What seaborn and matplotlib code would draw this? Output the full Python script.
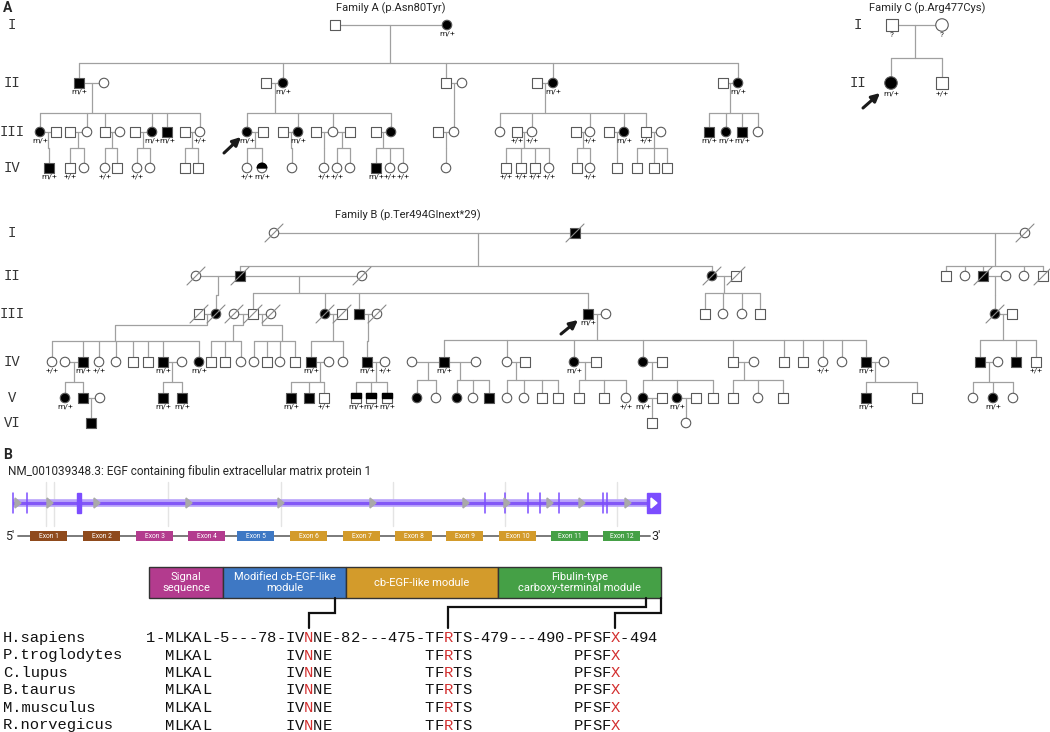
import matplotlib
matplotlib.use("Agg")
import matplotlib.pyplot as plt
import numpy as np
import pandas as pd
import seaborn as sns
from matplotlib.patches import Rectangle, Wedge, Polygon

# ---------------- pedigree data ----------------
# person: (generation, x, sex, status, genotype, deceased)   status 0 open, 1 filled, 2 half
ROMAN = ["I", "II", "III", "IV", "V", "VI"]

rows_a = {1: 25, 2: 83, 3: 132, 4: 168}
people_a = [
    (1, 335, "M", 0, "", 0), (1, 447, "F", 1, "m/+", 0),
    (2, 79, "M", 1, "m/+", 0), (2, 104, "F", 0, "", 0), (2, 266, "M", 0, "", 0), (2, 283, "F", 1, "m/+", 0),
    (2, 446, "M", 0, "", 0), (2, 462, "F", 0, "", 0), (2, 537, "M", 0, "", 0), (2, 553, "F", 1, "m/+", 0),
    (2, 723, "M", 0, "", 0), (2, 738, "F", 1, "m/+", 0),
    (3, 40, "F", 1, "m/+", 0), (3, 56, "M", 0, "", 0), (3, 70, "M", 0, "", 0), (3, 87, "F", 0, "", 0),
    (3, 105, "M", 0, "", 0), (3, 120, "F", 0, "", 0), (3, 135, "M", 0, "", 0), (3, 152, "F", 1, "m/+", 0),
    (3, 167, "M", 1, "m/+", 0), (3, 185, "M", 0, "", 0), (3, 200, "F", 0, "+/+", 0),
    (3, 247, "F", 1, "m/+", 0), (3, 263, "M", 0, "", 0), (3, 283, "M", 0, "", 0), (3, 298, "F", 1, "m/+", 0),
    (3, 316, "M", 0, "", 0), (3, 333, "F", 0, "", 0), (3, 350, "M", 0, "", 0), (3, 376, "M", 0, "", 0),
    (3, 391, "F", 1, "", 0), (3, 438, "M", 0, "", 0), (3, 454, "F", 0, "", 0),
    (3, 500, "F", 0, "", 0), (3, 517, "M", 0, "+/+", 0), (3, 532, "F", 0, "+/+", 0), (3, 576, "M", 0, "", 0),
    (3, 590, "F", 0, "+/+", 0), (3, 609, "M", 0, "", 0), (3, 624, "F", 1, "m/+", 0), (3, 646, "M", 0, "+/+", 0),
    (3, 661, "F", 0, "", 0), (3, 709, "M", 1, "m/+", 0), (3, 726, "F", 1, "m/+", 0), (3, 742, "M", 1, "m/+", 0),
    (3, 758, "F", 0, "", 0),
    (4, 49, "M", 1, "m/+", 0), (4, 70, "M", 0, "+/+", 0), (4, 84, "F", 0, "", 0), (4, 105, "F", 0, "+/+", 0),
    (4, 117, "M", 0, "", 0), (4, 137, "F", 0, "+/+", 0), (4, 150, "F", 0, "", 0), (4, 185, "M", 0, "", 0),
    (4, 198, "M", 0, "", 0), (4, 247, "F", 0, "+/+", 0), (4, 262, "F", 2, "m/+", 0), (4, 292, "F", 0, "", 0),
    (4, 324, "F", 0, "+/+", 0), (4, 337, "F", 0, "+/+", 0), (4, 350, "F", 0, "", 0), (4, 376, "M", 1, "m/+", 0),
    (4, 390, "F", 0, "+/+", 0), (4, 403, "F", 0, "+/+", 0), (4, 446, "F", 0, "", 0),
    (4, 506, "M", 0, "+/+", 0), (4, 521, "M", 0, "+/+", 0), (4, 535, "M", 0, "+/+", 0), (4, 549, "F", 0, "+/+", 0),
    (4, 577, "M", 0, "", 0), (4, 590, "F", 0, "+/+", 0), (4, 617, "M", 0, "", 0), (4, 637, "M", 0, "", 0),
    (4, 654, "M", 0, "", 0), (4, 667, "M", 0, "", 0),
]
couples_a = [
    (1, 335, 447), (2, 79, 104), (2, 266, 283), (2, 446, 462), (2, 537, 553), (2, 723, 738),
    (3, 40, 56), (3, 70, 87), (3, 105, 120), (3, 135, 152), (3, 185, 200), (3, 247, 263), (3, 283, 298),
    (3, 316, 350), (3, 376, 391), (3, 438, 454), (3, 517, 532), (3, 576, 590), (3, 609, 624), (3, 646, 661),
]
# sibship: (parent generation, drop x, bar y, children x)
sibs_a = [
    (1, 390, 63, [79, 283, 446, 553, 738]),
    (2, 92, 113, [40, 87, 105, 152, 167, 200]), (2, 275, 113, [247, 298, 333, 391]),
    (2, 454, 113, [454]), (2, 545, 113, [500, 532, 590, 624, 646]), (2, 730, 113, [709, 726, 742, 758]),
    (3, 48, 148, [49]), (3, 78, 148, [70, 84]), (3, 112, 148, [105, 117]), (3, 143, 148, [137, 150]),
    (3, 192, 148, [185, 198]), (3, 255, 148, [247, 262]), (3, 291, 148, [292]), (3, 324, 148, [324]),
    (3, 342, 148, [337, 350]), (3, 383, 148, [376, 390, 403]), (3, 446, 148, [446]),
    (3, 524, 148, [506, 521, 535, 549]), (3, 583, 148, [577, 590]), (3, 617, 148, [617]),
    (3, 654, 148, [637, 654, 667]),
]

rows_c = {1: 25, 2: 83}
people_c = [(1, 892, "M", 0, "?", 0), (1, 942, "F", 0, "?", 0), (2, 891, "F", 1, "m/+", 0), (2, 942, "M", 0, "+/+", 0)]
couples_c = [(1, 892, 942)]
sibs_c = [(1, 915, 58, [891, 942])]

rows_b = {1: 233, 2: 276, 3: 314, 4: 362, 5: 398, 6: 423}
people_b = [
    (1, 274, "F", 0, "", 1), (1, 575, "M", 1, "", 1), (1, 1025, "F", 0, "", 1),
    (2, 196, "F", 0, "", 1), (2, 240, "M", 1, "", 1), (2, 362, "F", 0, "", 1), (2, 712, "F", 1, "", 1),
    (2, 736, "M", 0, "", 1), (2, 946, "M", 0, "", 0), (2, 965, "F", 0, "", 0), (2, 983, "M", 1, "", 1),
    (2, 1006, "F", 0, "", 0), (2, 1024, "F", 0, "", 0), (2, 1043, "M", 0, "", 1),
    (3, 199, "M", 0, "", 1), (3, 216, "F", 1, "", 1), (3, 234, "F", 0, "", 1), (3, 253, "M", 0, "", 1),
    (3, 271, "F", 0, "", 1), (3, 325, "F", 1, "", 1), (3, 342, "M", 0, "", 1), (3, 359, "M", 1, "", 0),
    (3, 377, "F", 0, "", 1), (3, 588, "M", 1, "m/+", 0), (3, 606, "F", 0, "", 0), (3, 705, "M", 0, "", 0),
    (3, 723, "F", 0, "", 0), (3, 742, "F", 0, "", 0), (3, 760, "M", 0, "", 0), (3, 995, "F", 1, "", 1),
    (3, 1012, "M", 0, "", 0),
    (4, 52, "F", 0, "+/+", 0), (4, 65, "F", 0, "", 0), (4, 83, "M", 1, "m/+", 0), (4, 99, "F", 0, "+/+", 0),
    (4, 116, "F", 0, "", 0), (4, 133, "M", 0, "", 0), (4, 148, "M", 0, "", 0), (4, 163, "M", 1, "m/+", 0),
    (4, 182, "F", 0, "", 0), (4, 199, "F", 1, "m/+", 0), (4, 211, "M", 0, "", 0), (4, 225, "M", 0, "", 0),
    (4, 241, "F", 0, "", 0), (4, 254, "F", 0, "", 0), (4, 267, "M", 0, "", 0), (4, 280, "F", 0, "", 0),
    (4, 295, "M", 0, "", 0), (4, 311, "M", 1, "m/+", 0), (4, 329, "F", 0, "", 0), (4, 343, "F", 0, "", 0),
    (4, 367, "M", 1, "m/+", 0), (4, 385, "F", 0, "+/+", 0), (4, 412, "F", 0, "", 0), (4, 444, "M", 1, "m/+", 0),
    (4, 476, "F", 0, "", 0), (4, 507, "F", 0, "", 0), (4, 525, "M", 0, "", 0), (4, 574, "F", 1, "m/+", 0),
    (4, 596, "M", 0, "", 0), (4, 643, "F", 1, "", 0), (4, 662, "M", 0, "", 0), (4, 733, "M", 0, "", 0),
    (4, 754, "F", 0, "", 0), (4, 784, "M", 0, "", 0), (4, 803, "M", 0, "", 0), (4, 823, "F", 0, "+/+", 0),
    (4, 842, "F", 0, "", 0), (4, 866, "M", 1, "m/+", 0), (4, 884, "F", 0, "", 0), (4, 980, "M", 1, "", 0),
    (4, 998, "F", 0, "", 0), (4, 1016, "M", 1, "", 0), (4, 1036, "M", 0, "+/+", 0),
    (5, 65, "F", 1, "m/+", 0), (5, 83, "M", 1, "", 0), (5, 100, "F", 0, "", 0), (5, 163, "M", 1, "m/+", 0),
    (5, 182, "M", 1, "m/+", 0), (5, 291, "M", 1, "m/+", 0), (5, 309, "M", 1, "", 0), (5, 324, "M", 0, "+/+", 0),
    (5, 356, "M", 2, "m/+", 0), (5, 371, "M", 2, "m/+", 0), (5, 387, "M", 2, "m/+", 0),
    (5, 417, "F", 1, "", 0), (5, 436, "F", 0, "", 0), (5, 457, "F", 1, "", 0), (5, 473, "F", 0, "", 0),
    (5, 489, "M", 1, "", 0), (5, 507, "F", 0, "", 0), (5, 524, "F", 0, "", 0), (5, 542, "M", 0, "", 0),
    (5, 558, "M", 0, "", 0), (5, 579, "M", 0, "", 0), (5, 604, "M", 0, "", 0), (5, 626, "F", 0, "+/+", 0),
    (5, 643, "F", 1, "m/+", 0), (5, 662, "M", 0, "", 0), (5, 677, "F", 1, "m/+", 0), (5, 696, "M", 0, "", 0),
    (5, 713, "M", 0, "", 0), (5, 733, "M", 0, "", 0), (5, 758, "F", 0, "", 0), (5, 783, "M", 0, "", 0),
    (5, 866, "M", 1, "m/+", 0), (5, 917, "M", 0, "", 0), (5, 973, "F", 0, "", 0), (5, 993, "F", 1, "m/+", 0),
    (5, 1013, "F", 0, "", 0),
    (6, 91, "M", 1, "", 0), (6, 652, "M", 0, "", 0), (6, 686, "F", 0, "", 0),
]
couples_b = [
    (1, 274, 575), (1, 575, 1025), (2, 196, 240), (2, 240, 362), (2, 712, 736), (2, 983, 1006),
    (3, 199, 216), (3, 234, 253), (3, 253, 271), (3, 325, 342), (3, 359, 377), (3, 588, 606), (3, 995, 1012),
    (4, 65, 83), (4, 163, 182), (4, 311, 329), (4, 367, 385), (4, 412, 444), (4, 444, 476), (4, 507, 525),
    (4, 574, 596), (4, 643, 662), (4, 733, 754), (4, 866, 884), (4, 980, 998),
    (5, 83, 100), (5, 643, 662), (5, 677, 696),
]
# optional 5th item: (jog y, jog x) for bent descent lines
sibs_b = [
    (1, 478, 266, [240, 712]), (1, 995, 266, [946, 965, 983, 1024, 1043]),
    (2, 218, 295, [216]), (2, 299, 293, [253, 325, 359, 588]), (2, 724, 293, [705, 723, 742, 760]),
    (2, 995, 295, [995]),
    (3, 207, 341, [52, 83, 99, 116, 133, 148, 163, 199], (325, 115)),
    (3, 243, 341, [211, 225, 241], (325, 233)),
    (3, 262, 341, [254, 267, 280, 295], (325, 282)),
    (3, 333, 341, [311, 343]), (3, 368, 341, [367]),
    (3, 597, 340, [444, 507, 574, 643, 733, 784, 803, 823, 842, 866]),
    (3, 1003, 340, [980, 1016, 1036]),
    (4, 74, 382, [65, 83]), (4, 172, 382, [163, 182]), (4, 320, 382, [291, 309, 324]),
    (4, 376, 382, [356, 371, 387]), (4, 428, 380, [417, 436]), (4, 460, 380, [457, 473, 489]),
    (4, 516, 380, [507, 524, 542, 558]), (4, 585, 380, [579, 604, 626]), (4, 652, 380, [643, 677, 713]),
    (4, 744, 380, [733, 758, 783]), (4, 875, 382, [866, 917]), (4, 989, 382, [973, 993, 1013]),
    (5, 91, 411, [91]), (5, 652, 411, [652]), (5, 686, 411, [686]),
]

# proband arrows: (tail, head)
probands = [((224, 153), (241, 137)), ((561, 334), (578, 320)), ((863, 108), (880, 93))]

# ---------------- gene / protein data ----------------
track_span = (13, 650)
guide_x = [46, 54, 168, 281, 393, 505, 617]
exon_tick_x = [13, 27, 485, 505, 528, 540, 559, 603, 607]
chevron_x = [18, 50, 97, 189, 281, 373, 466, 507, 550, 582, 628]
exon_names = [f"Exon {i}" for i in range(1, 13)]
exon_left = [30, 83, 136, 188, 237, 290, 343, 395, 446, 499, 551, 603]
exon_domain = [0, 0, 1, 1, 2, 3, 3, 3, 3, 3, 4, 4]
exon_colors = ["#8f4a1c", "#b33b8e", "#3e78c4", "#d39b2b", "#45a046"]

domain_names = ["Signal\nsequence", "Modified cb-EGF-like\nmodule", "cb-EGF-like module",
                "Fibulin-type\ncarboxy-terminal module"]
domain_edges = [149, 223, 346, 498, 661]
domain_colors = ["#b33b8e", "#3e78c4", "#d39b2b", "#45a046"]

species = ["H.sapiens", "P.troglodytes", "C.lupus", "B.taurus", "M.musculus", "R.norvegicus"]
human_seq = "1-MLKAL-5---78-IVNNE-82---475-TFRTS-479---490-PFSFX-494"
motifs = ["MLKAL", "IVNNE", "TFRTS", "PFSFX"]
red_offsets = {"IVNNE": 2, "TFRTS": 2, "PFSFX": 4}
bracket_top = [335, 646, 661]
bracket_knee = [613, 607, 613]

# ---------------- drawing ----------------
sns.set_theme(style="white")
plt.rcParams["font.family"] = ["Roboto", "DejaVu Sans"]
MONO = ["Liberation Mono", "DejaVu Sans Mono"]
LINE = "#a0a0a0"
EDGE = "#5a5a5a"

fig = plt.figure(figsize=(10.5, 7.32), dpi=100)
ax = fig.add_axes([0, 0, 1, 1])


def draw_family(people, rows, couples, sibs, size_px):
    h = size_px / 2
    for g, x1, x2 in couples:
        ax.plot([x1, x2], [rows[g]] * 2, color=LINE, lw=0.9, zorder=1)
    for sb in sibs:
        g, xd, yb, kids = sb[:4]
        yc = rows[g + 1]
        xs = list(kids)
        if len(sb) > 4:
            yj, xj = sb[4]
            ax.plot([xd, xd, xj, xj], [rows[g], yj, yj, yb], color=LINE, lw=0.9, zorder=1)
            xs.append(xj)
        else:
            ax.plot([xd, xd], [rows[g], yb], color=LINE, lw=0.9, zorder=1)
            xs.append(xd)
        ax.plot([min(xs), max(xs)], [yb, yb], color=LINE, lw=0.9, zorder=1)
        for xk in kids:
            ax.plot([xk, xk], [yb, yc], color=LINE, lw=0.9, zorder=1)

    df = pd.DataFrame(people, columns=["gen", "x", "sex", "status", "geno", "dead"])
    df["y"] = df["gen"].map(rows)
    df["fill"] = np.where(df["status"] == 1, "black", "white")
    sns.scatterplot(data=df, x="x", y="y", hue="fill", style="sex",
                    palette={"black": "black", "white": "white"},
                    markers={"M": "s", "F": "o"}, s=(size_px * 0.72) ** 2,
                    edgecolor=EDGE, linewidth=0.8, legend=False, ax=ax, zorder=3)
    for r in df.itertuples():
        if r.status == 2:
            if r.sex == "M":
                ax.add_patch(Rectangle((r.x - h, r.y - h), 2 * h, h, color="black", zorder=4))
            else:
                ax.add_patch(Wedge((r.x, r.y), h, 180, 360, color="black", zorder=4))
        if r.dead:
            ax.plot([r.x - 9, r.x + 9], [r.y + 9, r.y - 9], color="#8a8a8a", lw=0.8, zorder=5)
        if r.geno:
            ax.text(r.x, r.y + h + 1, r.geno, ha="center", va="top", fontsize=6, color="#222", zorder=5)


draw_family(people_a, rows_a, couples_a, sibs_a, 9.5)
draw_family(people_b, rows_b, couples_b, sibs_b, 9.5)
draw_family(people_c, rows_c, couples_c, sibs_c, 12.5)

for tail, head in probands:
    ax.annotate("", xy=head, xytext=tail,
                arrowprops=dict(arrowstyle="-|>", color="#1a1a1a", lw=2.2, mutation_scale=12,
                                shrinkA=0, shrinkB=0), zorder=6)

for rows, xg in [(rows_a, 12), (rows_b, 12), (rows_c, 858)]:
    for g, yy in rows.items():
        ax.text(xg, yy, ROMAN[g - 1], ha="center", va="center", fontsize=10, family=MONO, color="#333")

ax.text(391, 8, "Family A (p.Asn80Tyr)", ha="center", va="center", fontsize=8)
ax.text(927, 8, "Family C (p.Arg477Cys)", ha="center", va="center", fontsize=8)
ax.text(408, 215, "Family B (p.Ter494Glnext*29)", ha="center", va="center", fontsize=8)
ax.text(3, 8, "A", ha="left", va="center", fontsize=10, fontweight="bold")
ax.text(3, 455, "B", ha="left", va="center", fontsize=10, fontweight="bold")
ax.text(8, 471, "NM_001039348.3: EGF containing fibulin extracellular matrix protein 1",
        ha="left", va="center", fontsize=8.5)

# gene track
ty = 503
for gx in guide_x:
    ax.plot([gx, gx], [482, 526], color="#e4e4e4", lw=1, zorder=1)
ax.plot(track_span, [ty, ty], color="#b9a3fb", lw=5.5, solid_capstyle="butt", zorder=2)
ax.plot(track_span, [ty, ty], color="#8358f6", lw=2.2, solid_capstyle="butt", zorder=2)
for ex in exon_tick_x:
    ax.plot([ex, ex], [493, 513], color="#7c4dff", lw=1.1, zorder=3)
ax.add_patch(Rectangle((77, 493), 4, 20, color="#7c4dff", zorder=3))
ax.add_patch(Rectangle((647, 493), 13, 20, color="#7c4dff", zorder=3))
ax.add_patch(Polygon([(651, 498), (657, 503), (651, 508)], color="white", zorder=4))
for cx in chevron_x:
    ax.add_patch(Polygon([(cx - 3, ty - 5), (cx + 3, ty), (cx - 3, ty + 5)], color="#a9a9a9", zorder=4))

# exon row
ey = 536
ax.plot([18, 650], [ey, ey], color="#707070", lw=1.3, zorder=1)
ax.text(5, ey, "5'", ha="left", va="center", fontsize=9)
ax.text(651, ey, "3'", ha="left", va="center", fontsize=9)
for name, x0, d in zip(exon_names, exon_left, exon_domain):
    ax.add_patch(Rectangle((x0, ey - 5), 37, 10, facecolor=exon_colors[d], edgecolor="none", zorder=2))
    ax.text(x0 + 18.5, ey, name, ha="center", va="center", fontsize=4.8, color="white",
            fontstretch="condensed", zorder=3)

# protein domains
for name, l, r, c in zip(domain_names, domain_edges[:-1], domain_edges[1:], domain_colors):
    ax.add_patch(Rectangle((l, 567), r - l, 31, facecolor=c, edgecolor="#333", lw=1, zorder=2))
    ax.text((l + r) / 2, 582.5, name, ha="center", va="center", fontsize=8, color="white",
            linespacing=1.15, zorder=3)

# alignment
fs = 11.15
cw = 0.6 * fs * 100 / 72
x0 = 146
row_y = [638 + 17.5 * i for i in range(len(species))]
mask = [" "] * len(human_seq)
red_idx = []
for m in motifs:
    i = human_seq.index(m)
    mask[i:i + len(m)] = list(m)
    if m in red_offsets:
        red_idx.append(i + red_offsets[m])
ortho_seq = "".join(mask)

for k, (sp, yy) in enumerate(zip(species, row_y)):
    ax.text(3, yy, sp, ha="left", va="center", fontsize=fs, family=MONO, color="#111")
    seq = human_seq if k == 0 else ortho_seq
    for i, ch in enumerate(seq):
        if ch == " ":
            continue
        ax.text(x0 + i * cw, yy, ch, ha="left", va="center", fontsize=fs, family=MONO,
                color="#d32f2f" if i in red_idx else "#111")

for top, knee, ri in zip(bracket_top, bracket_knee, red_idx):
    xb = x0 + (ri + 0.5) * cw
    ax.plot([top, top, xb, xb], [598, knee, knee, 628], color="#111", lw=1.6,
            solid_joinstyle="miter", zorder=2)

ax.set_xlim(0, 1050)
ax.set_ylim(732, 0)
ax.axis("off")
fig.savefig("out.png", dpi=100)
